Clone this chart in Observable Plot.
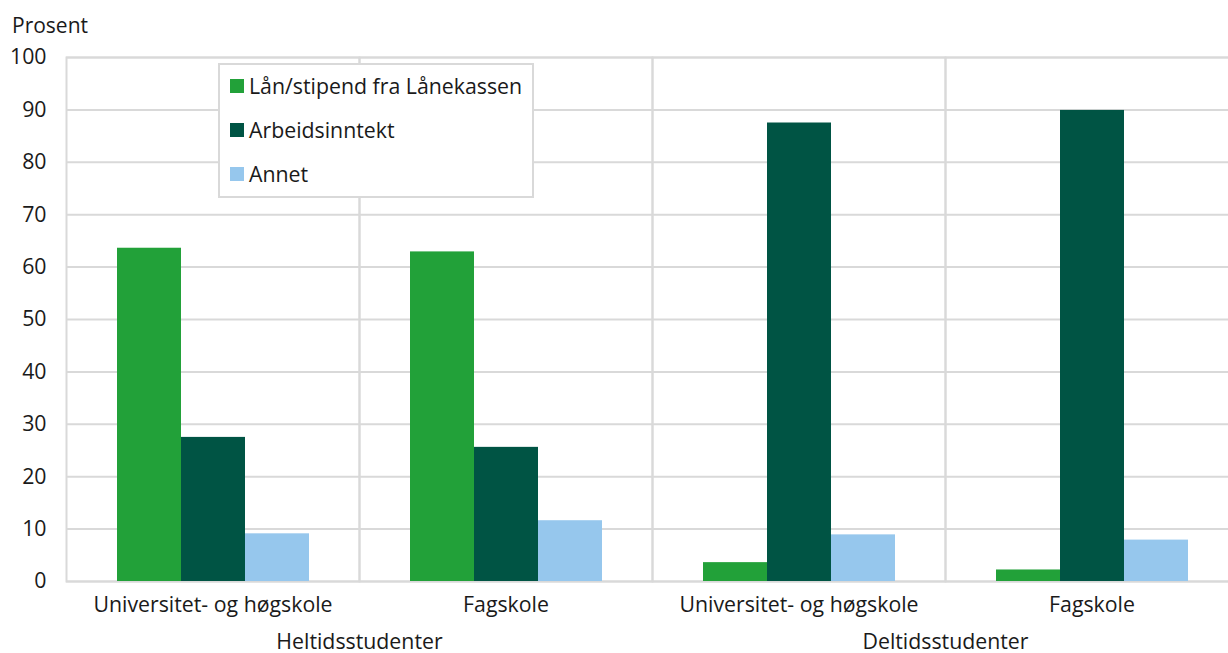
<!DOCTYPE html>
<html>
<head>
<meta charset="utf-8">
<script src="https://cdn.jsdelivr.net/npm/d3@7"></script>
<script src="https://cdn.jsdelivr.net/npm/@observablehq/plot@0.6"></script>
<style>
  html, body { margin: 0; padding: 0; overflow: hidden; background: #fff; }
  body { width: 1228px; height: 653px; position: relative; font-family: "Open Sans", sans-serif; color: #1a1a1a; }
  #ylabel { position: absolute; left: 12px; top: 10px; font-size: 21px; line-height: 30px; }
  #chart { position: absolute; left: 0; top: 40px; width: 1238px; }
  #legend { position: absolute; left: 218px; top: 63px; width: 312px; height: 131px; border: 2px solid #d9d9d9; background: #fff; }
  .item { position: absolute; left: 10px; font-size: 21.3px; line-height: 30px; display: flex; align-items: center; white-space: nowrap; }
  .sw { width: 14px; height: 14px; margin-right: 5px; }
</style>
</head>
<body>
<div id="ylabel">Prosent</div>
<div id="chart"></div>
<div id="legend"></div>
<script>
const groups = ["Heltidsstudenter", "Heltidsstudenter", "Deltidsstudenter", "Deltidsstudenter"];
const subcats = ["Universitet- og høgskole", "Fagskole", "Universitet- og høgskole", "Fagskole"];
const series = ["Lån/stipend fra Lånekassen", "Arbeidsinntekt", "Annet"];
const colors = ["#22a139", "#005444", "#96c7ed"];
const lanStipend = [63.6, 62.9, 3.6, 2.2];
const arbeid = [27.5, 25.6, 87.5, 89.9];
const annet = [9.1, 11.6, 8.9, 7.9];
const yTicks = [0, 10, 20, 30, 40, 50, 60, 70, 80, 90, 100];

const keys = subcats.map((s, i) => groups[i] + "|" + s);
const valuesBySeries = [lanStipend, arbeid, annet];
const data = [];
keys.forEach((k, i) => {
  series.forEach((s, j) => data.push({key: k, series: s, value: valuesBySeries[j][i]}));
});
const groupLabels = [
  {key: keys[0], text: groups[0]},
  {key: keys[2], text: groups[2]}
];

const chart = Plot.plot({
  width: 1238,
  height: 613,
  marginLeft: 66,
  marginRight: 0,
  marginTop: 17,
  marginBottom: 72,
  style: {fontFamily: "Open Sans, sans-serif", fontSize: "21.3px", color: "#1a1a1a", background: "transparent", overflow: "visible", maxWidth: "none"},
  fx: {domain: keys, padding: 0, tickSize: 0, tickPadding: 15, label: null, tickFormat: d => d.split("|")[1], axis: "bottom"},
  x: {domain: series, axis: null, paddingInner: 0, paddingOuter: 0.76},
  y: {domain: [0, 100], ticks: yTicks, tickSize: 0, tickPadding: 20, label: null},
  color: {domain: series, range: colors},
  marks: [
    Plot.gridY(yTicks, {stroke: "#d9d9d9", strokeOpacity: 1, strokeWidth: 2}),
    Plot.frame({stroke: "#d9d9d9", strokeWidth: 2}),
    Plot.barY(data, {fx: "key", x: "series", y: "value", fill: "series"}),
    Plot.text(groupLabels, {fx: "key", text: "text", frameAnchor: "bottom-right", dy: 67, textAnchor: "middle", fill: "#1a1a1a", fontSize: 21.3})
  ]
});
chart.style.maxWidth = "none";
document.getElementById("chart").appendChild(chart);

const legend = document.getElementById("legend");
series.forEach((s, i) => {
  const item = document.createElement("div");
  item.className = "item";
  item.style.top = (6 + i * 44) + "px";
  const sw = document.createElement("span");
  sw.className = "sw";
  sw.style.background = colors[i];
  const t = document.createElement("span");
  t.textContent = s;
  item.appendChild(sw);
  item.appendChild(t);
  legend.appendChild(item);
});
</script>
</body>
</html>
